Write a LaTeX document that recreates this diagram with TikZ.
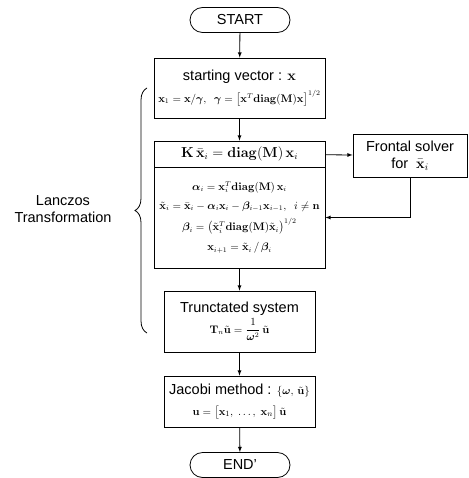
\documentclass[tikz,border=0pt]{standalone}
\usepackage{amsmath}
\usepackage{bm}
\usepackage[no-math]{fontspec}
\setmainfont{Liberation Sans}
\usetikzlibrary{shapes.misc,decorations.pathreplacing}

\begin{document}
\begin{tikzpicture}[
  x=1pt, y=-1pt,
  font=\fontsize{14.5}{17}\selectfont,
  term/.style={rounded rectangle, draw, line width=0.8pt, minimum width=100pt, minimum height=25pt, inner sep=0pt},
  box/.style={rectangle, draw, line width=0.8pt, align=center, inner sep=0pt},
  eq/.style={font=\fontsize{10.5}{12}\selectfont},
  edge/.style={-latex, line width=0.8pt},
  lbl/.style={align=center, inner sep=0pt}
]
\useasboundingbox (0,0) rectangle (468,478);

%======================
% MAIN COLUMN
%======================

% nodes
\node[term] (start) at (240,20) {START};
\node[box, minimum width=171pt, minimum height=60pt] (vec) at (239.5,88)
  {starting vector : $\mathbf{x}$\\[5pt]
   {\fontsize{10.5}{13}\selectfont $\mathbf{x}_1 = \mathbf{x}/\boldsymbol{\gamma},\ \ \boldsymbol{\gamma} = \bigl[\mathbf{x}^T\mathbf{diag(M)x}\bigr]^{1/2}$}};
\node[box, minimum width=171pt, minimum height=26pt, font=\fontsize{13.5}{15}\selectfont] (khead) at (239.5,154)
  {$\mathbf{K}\,\bar{\mathbf{x}}_i = \mathbf{diag(M)}\,\mathbf{x}_i$};
\node[box, eq, minimum width=171pt, minimum height=101pt] (lanc) at (239.5,217.5)
  {$\boldsymbol{\alpha}_i = \mathbf{x}_i^T\mathbf{diag(M)}\,\mathbf{x}_i$\\[7pt]
   $\tilde{\mathbf{x}}_i = \bar{\mathbf{x}}_i - \boldsymbol{\alpha}_i\mathbf{x}_i - \boldsymbol{\beta}_{i-1}\mathbf{x}_{i-1},\ \ i \neq \mathbf{n}$\\[6pt]
   $\boldsymbol{\beta}_i = \bigl(\tilde{\mathbf{x}}_i^T\mathbf{diag(M)}\tilde{\mathbf{x}}_i\bigr)^{1/2}$\\[7pt]
   $\mathbf{x}_{i+1} = \tilde{\mathbf{x}}_i\,/\,\boldsymbol{\beta}_i$};
\node[box, minimum width=151pt, minimum height=61pt] (trunc) at (239.5,321.5)
  {Trunctated system\\[2pt]
   {\fontsize{10.5}{13}\selectfont $\mathbf{T}_n\tilde{\mathbf{u}} = \dfrac{1}{\boldsymbol{\omega}^2}\,\tilde{\mathbf{u}}$}};
\node[box, minimum width=151pt, minimum height=51pt] (jac) at (239.5,401.5)
  {Jacobi method : {\fontsize{10.5}{13}\selectfont $\{\boldsymbol{\omega},\,\tilde{\mathbf{u}}\}$}\\[4pt]
   {\fontsize{11}{13}\selectfont $\mathbf{u} = \bigl[\mathbf{x}_1,\ \ldots,\ \mathbf{x}_n\bigr]\,\tilde{\mathbf{u}}$}};
\node[term] (stop) at (240,465) {END'};

% main flow
\draw[edge] (start) -- (vec);
\draw[edge] (vec) -- (khead);
\draw[edge] (lanc) -- (trunc);
\draw[edge] (trunc) -- (jac);
\draw[edge] (jac) -- (stop);

%======================
% FRONTAL SOLVER LOOP
%======================

\node[box, minimum width=114pt, minimum height=43pt] (front) at (410,155.5)
  {Frontal solver\\for\ \ $\bar{\mathbf{x}}_i$};

\draw[edge] (khead) -- (front);
\draw[edge] (front.south) |- (lanc.east);

%======================
% BRACE + LABEL
%======================

\coordinate (bbot) at (147,333);
\coordinate (btop) at (147,88);
\draw[line width=0.8pt, decorate, decoration={brace, amplitude=12pt}] (bbot) -- (btop);

\node[lbl] (lanczos) at (63,209) {Lanczos\\Transformation};

\end{tikzpicture}
\end{document}
